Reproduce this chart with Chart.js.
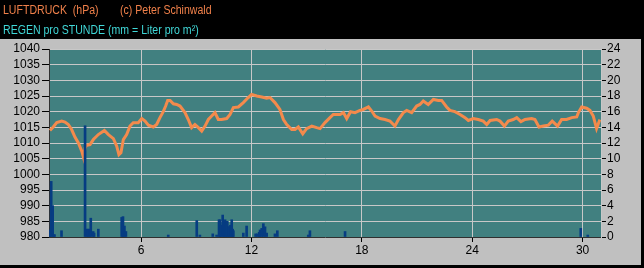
<!DOCTYPE html>
<html>
<head>
<meta charset="utf-8">
<script src="https://cdn.jsdelivr.net/npm/chart.js@4"></script>
<style>
  body { margin: 0; background: #000; width: 644px; height: 268px; overflow: hidden; position: relative;
         font-family: "Liberation Sans", Arial, sans-serif; }
  #chart { position: absolute; left: 0; top: 0; }
  .hdr { position: absolute; font-size: 12px; line-height: 14px; white-space: pre;
         transform: scaleX(0.88); transform-origin: 0 0; }
  #l1 { left: 3px; top: 3px; color: #f0804a; }
  #l1b { left: 120px; top: 3px; color: #f0804a; }
  #l2 { left: 3px; top: 23px; color: #40d8d8; }
</style>
</head>
<body>
<canvas id="chart" width="644" height="268"></canvas>
<div class="hdr" id="l1">LUFTDRUCK  (hPa)</div>
<div class="hdr" id="l1b">(c) Peter Schinwald</div>
<div class="hdr" id="l2">REGEN pro STUNDE (mm = Liter pro m²)</div>
<script>
// Luftdruck (Tag des Monats, hPa)
const pressureDays = [
  1.05, 1.23, 1.42, 1.69, 1.87, 2.05, 2.23, 2.41, 2.59, 2.78, 2.87, 2.96, 3.05, 3.23, 3.41, 3.68,
  4.01, 4.23, 4.50, 4.68, 4.80, 4.91, 5.04, 5.22, 5.40, 5.58, 5.85, 6.04, 6.22, 6.40, 6.67, 6.85,
  7.03, 7.21, 7.34, 7.45, 7.58, 7.76, 7.94, 8.12, 8.39, 8.57, 8.75, 8.93, 9.12, 9.30, 9.48, 9.66,
  9.84, 10.02, 10.20, 10.38, 10.66, 10.84, 11.02, 11.29, 11.56, 11.83, 12.01, 12.29, 12.56, 12.83,
  13.01, 13.28, 13.55, 13.74, 13.92, 14.19, 14.37, 14.55, 14.79, 15.00, 15.28, 15.55, 15.73, 16.00,
  16.27, 16.45, 16.82, 17.00, 17.18, 17.39, 17.63, 17.90, 18.08, 18.36, 18.54, 18.72, 18.99, 19.26,
  19.53, 19.80, 19.99, 20.26, 20.44, 20.71, 20.98, 21.16, 21.34, 21.61, 21.89, 22.16, 22.34, 22.61,
  22.79, 23.06, 23.34, 23.61, 23.79, 24.06, 24.33, 24.60, 24.79, 24.97, 25.33, 25.51, 25.75, 25.96,
  26.23, 26.42, 26.65, 26.87, 27.23, 27.41, 27.63, 27.87, 28.14, 28.35, 28.64, 28.86, 29.13, 29.41,
  29.68, 29.77, 29.95, 30.22, 30.40, 30.58, 30.76, 30.94
];
const pressureHpa = [
  1014.0, 1015.1, 1016.5, 1017.0, 1016.7, 1015.9, 1014.3, 1011.9, 1010.1, 1007.4, 1005.5, 1008.5, 1009.3, 1009.5, 1011.1, 1012.7,
  1014.0, 1012.7, 1011.4, 1009.0, 1006.3, 1006.9, 1011.1, 1012.7, 1015.4, 1016.5, 1016.5, 1017.8, 1017.0, 1015.7, 1015.1, 1015.9,
  1018.1, 1020.0, 1021.8, 1023.6, 1023.6, 1022.5, 1022.3, 1021.8, 1019.7, 1017.5, 1014.9, 1015.9, 1014.9, 1013.8, 1015.4, 1017.5,
  1018.6, 1019.7, 1017.5, 1017.5, 1017.8, 1019.1, 1021.3, 1021.5, 1022.9, 1024.5, 1025.5, 1025.0, 1024.7, 1024.3,
  1024.5, 1022.9, 1020.7, 1017.5, 1015.9, 1014.3, 1014.3, 1015.1, 1012.9, 1014.6, 1015.4, 1014.9, 1014.6, 1016.5,
  1018.1, 1019.1, 1019.1, 1019.7, 1017.8, 1020.0, 1019.7, 1020.4, 1020.7, 1021.5, 1020.2, 1018.6, 1017.8, 1017.5,
  1017.0, 1015.4, 1017.5, 1019.7, 1020.4, 1019.7, 1021.8, 1022.3, 1023.4, 1022.3, 1023.9, 1023.6, 1023.6, 1021.5,
  1020.4, 1020.0, 1019.1, 1018.1, 1017.2, 1017.8, 1017.5, 1017.0, 1015.9, 1017.2, 1017.5, 1017.0, 1015.4, 1017.0,
  1017.5, 1018.1, 1016.8, 1017.5, 1017.8, 1017.5, 1015.1, 1015.4, 1015.7, 1017.0, 1015.4, 1017.5, 1017.5, 1018.1,
  1018.3, 1019.7, 1021.5, 1021.1, 1020.4, 1018.6, 1014.6, 1017.5
];

// Regen pro Stunde (Tag des Monats, mm)
const rainDays = [
  1.05, 1.12, 1.20, 1.25, 1.30, 1.68, 2.96, 3.05, 3.12, 3.20, 3.27, 3.40, 3.45, 3.68,
  4.95, 5.02, 5.10, 5.18, 7.48, 9.03, 9.20, 9.90, 10.11, 10.24, 10.29, 10.35, 10.44, 10.50,
  10.57, 10.63, 10.69, 10.75, 10.80, 10.86, 10.93, 10.98, 11.02, 11.56, 11.74, 12.23, 12.33,
  12.42, 12.47, 12.56, 12.65, 12.74, 12.83, 13.28, 13.41, 15.09, 15.18, 17.09, 29.90, 30.28
];
const rainMm = [
  0.9, 7.1, 4.0, 0.3, 0.3, 0.8, 14.2, 1.0, 1.0, 1.0, 2.4, 0.7, 0.5, 1.0,
  2.5, 2.6, 1.4, 0.7, 0.25, 2.1, 0.25, 0.4, 0.25, 2.2, 2.2, 1.5, 2.8, 2.0,
  2.2, 1.8, 2.0, 1.3, 1.3, 1.5, 2.2, 1.0, 0.8, 0.5, 1.4, 0.4, 0.4,
  0.6, 0.9, 1.1, 1.7, 1.3, 0.5, 0.4, 0.8, 0.25, 0.8, 0.7, 1.1, 0.25
];

const dayTicks = [6, 12, 18, 24, 30];

const backdrop = {
  id: 'backdrop',
  beforeDraw(chart) {
    const { ctx, chartArea: a } = chart;
    ctx.save();
    ctx.fillStyle = '#000';
    ctx.fillRect(0, 0, chart.width, chart.height);
    ctx.fillStyle = '#c0c0c0';
    ctx.fillRect(0, 39, 641, 226);
    ctx.fillStyle = '#418080';
    ctx.fillRect(a.left, a.top, a.right - a.left, a.bottom - a.top);
    ctx.restore();
  }
};

const tickFont = { family: '"Liberation Sans", Arial, sans-serif', size: 12 };
const plain = (v) => String(v);

new Chart(document.getElementById('chart'), {
  type: 'line',
  data: {
    datasets: [
      {
        type: 'bar',
        data: rainDays.map((d, i) => ({ x: d, y: rainMm[i] })),
        yAxisID: 'yR',
        backgroundColor: '#063c82',
        barThickness: 2,
        grouped: false,
        order: 0
      },
      {
        type: 'line',
        data: pressureDays.map((d, i) => ({ x: d, y: pressureHpa[i] })),
        yAxisID: 'yP',
        borderColor: '#f48a4c',
        borderWidth: 3,
        pointRadius: 0,
        tension: 0,
        order: 1
      }
    ]
  },
  options: {
    responsive: false,
    animation: false,
    devicePixelRatio: 1,
    layout: { padding: { top: 49 } },
    plugins: { legend: { display: false }, tooltip: { enabled: false } },
    scales: {
      x: {
        type: 'linear',
        min: 1,
        max: 31,
        offset: false,
        afterBuildTicks: (s) => { s.ticks = dayTicks.map(v => ({ value: v })); },
        afterFit: (s) => { s.height = 31; },
        ticks: { color: '#000', font: tickFont, padding: 1, maxRotation: 0, autoSkip: false, callback: plain },
        grid: { color: '#c8c8c8', tickColor: '#000', tickLength: 5, offset: false },
        border: { color: '#303030' }
      },
      yP: {
        position: 'left',
        min: 980,
        max: 1040,
        afterFit: (s) => { s.width = 49; },
        ticks: { stepSize: 5, color: '#000', font: tickFont, padding: 2, autoSkip: false, callback: plain },
        grid: { color: '#c8c8c8', tickColor: '#000', tickLength: 7 },
        border: { color: '#303030' }
      },
      yR: {
        position: 'right',
        min: 0,
        max: 24,
        afterFit: (s) => { s.width = 43; },
        ticks: { stepSize: 2, color: '#000', font: tickFont, padding: 1, autoSkip: false, callback: plain },
        grid: { drawOnChartArea: false, tickColor: '#000', tickLength: 5 },
        border: { color: '#c8c8c8' }
      }
    }
  },
  plugins: [backdrop]
});
</script>
</body>
</html>
